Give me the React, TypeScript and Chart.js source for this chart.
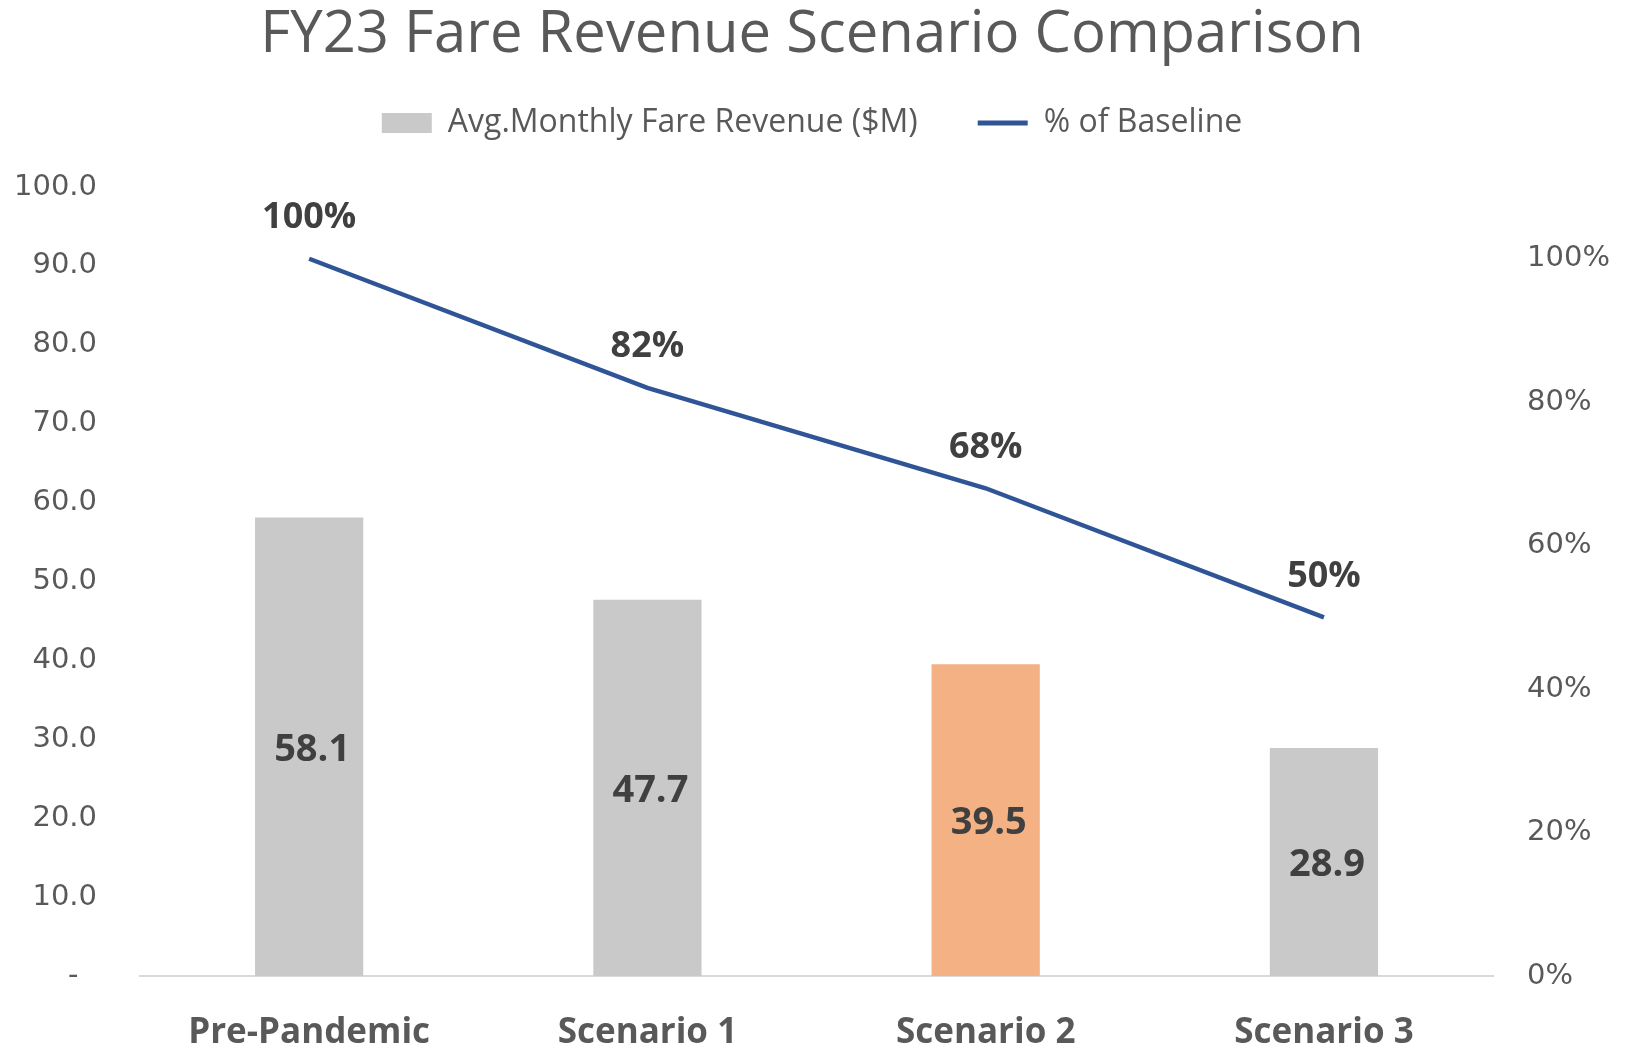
import React, { useEffect, useRef } from 'react';
import { Chart, registerables } from 'chart.js';

Chart.register(...registerables);

const titleText = 'FY23 Fare Revenue Scenario Comparison';
const categories = ['Pre-Pandemic', 'Scenario 1', 'Scenario 2', 'Scenario 3'];
const revenue = [58.1, 47.7, 39.5, 28.9];
const pctOfBaseline = [1.0, 0.82, 0.68, 0.5];
const barColors = ['#C9C9C9', '#C9C9C9', '#F4B183', '#C9C9C9'];
const revenueLabel = 'Avg.Monthly Fare Revenue ($M)';
const pctLabel = '% of Baseline';
const leftAxis = { min: 0, max: 100, step: 10 };
const rightAxis = { min: 0, max: 1.1, step: 0.2, lastLabel: 1.0 };

const GRAY_TEXT = '#595959';
const LABEL_TEXT = '#404040';
const LINE_BLUE = '#2F5597';
const SANS = "'Open Sans', sans-serif";
const TICK_FONT = "'DejaVu Sans', sans-serif";

// Chart.js counts tick padding twice when sizing an axis; keep it once.
const singlePadding = (extra: number) => (scale: any) => {
  const p = scale.options.ticks.padding;
  if (scale.isHorizontal()) scale.height -= p + extra;
  else scale.width -= p + extra;
};

export default function App() {
  const ref = useRef<HTMLCanvasElement | null>(null);

  useEffect(() => {
    if (!ref.current) return;

    const legendSpacer = {
      id: 'legendSpacer',
      beforeInit(chart: any) {
        const legend = chart.legend;
        if (!legend) return;
        const fit = legend.fit;
        legend.fit = function () {
          fit.call(legend);
          this.height += 38;
        };
      },
    };

    const valueLabels = {
      id: 'valueLabels',
      afterDatasetsDraw(chart: any) {
        const ctx = chart.ctx;
        ctx.save();
        ctx.fillStyle = LABEL_TEXT;
        ctx.textAlign = 'center';
        ctx.textBaseline = 'middle';
        ctx.font = `bold 38px ${SANS}`;
        chart.getDatasetMeta(0).data.forEach((el: any, i: number) => {
          ctx.fillText(revenue[i].toFixed(1), el.x + 3, (el.y + el.base) / 2 + 3);
        });
        ctx.font = `bold 36px ${SANS}`;
        chart.getDatasetMeta(1).data.forEach((el: any, i: number) => {
          ctx.fillText(Math.round(pctOfBaseline[i] * 100) + '%', el.x, el.y - 41);
        });
        ctx.restore();
      },
    };

    const chart = new Chart(ref.current, {
      type: 'bar',
      data: {
        labels: categories,
        datasets: [
          {
            type: 'bar',
            label: revenueLabel,
            data: revenue,
            backgroundColor: barColors,
            borderWidth: 0,
            yAxisID: 'y',
            order: 2,
            categoryPercentage: 1,
            barPercentage: 0.32,
          } as any,
          {
            type: 'line',
            label: pctLabel,
            data: pctOfBaseline,
            borderColor: LINE_BLUE,
            backgroundColor: LINE_BLUE,
            borderWidth: 4.5,
            pointRadius: 0,
            tension: 0,
            yAxisID: 'y1',
            order: 1,
          } as any,
        ],
      },
      options: {
        animation: false,
        responsive: true,
        maintainAspectRatio: false,
        color: GRAY_TEXT,
        font: { family: SANS },
        layout: { padding: { top: 24, left: 14, right: 16, bottom: 0 } },
        plugins: {
          tooltip: { enabled: false },
          title: {
            display: true,
            text: titleText,
            color: GRAY_TEXT,
            font: { family: SANS, size: 58, weight: 'normal', lineHeight: 0.397 },
            padding: { top: 0, bottom: 0 },
          },
          legend: {
            display: true,
            position: 'top',
            labels: {
              usePointStyle: true,
              pointStyleWidth: 50,
              boxHeight: 20,
              padding: 60,
              color: GRAY_TEXT,
              font: { family: SANS, size: 32 },
              generateLabels(c: any) {
                const items = Chart.defaults.plugins.legend.labels.generateLabels(c);
                items.sort((a: any, b: any) => a.datasetIndex - b.datasetIndex);
                items.forEach((it: any) => {
                  if (it.datasetIndex === 0) {
                    it.pointStyle = 'rect';
                    it.fillStyle = barColors[0];
                    it.strokeStyle = barColors[0];
                    it.lineWidth = 0;
                  } else {
                    it.pointStyle = 'line';
                    it.strokeStyle = LINE_BLUE;
                    it.fillStyle = LINE_BLUE;
                    it.lineWidth = 5;
                  }
                });
                return items;
              },
            },
          },
        },
        scales: {
          x: {
            grid: { display: false, drawTicks: false },
            border: { display: true, color: '#D9D9D9', width: 2 },
            afterFit: singlePadding(4),
            ticks: {
              color: GRAY_TEXT,
              padding: 40,
              font: { family: SANS, size: 35, weight: 'bold', lineHeight: 1 },
            },
          },
          y: {
            position: 'left',
            min: leftAxis.min,
            max: leftAxis.max,
            grid: { display: false, drawTicks: false },
            border: { display: false },
            afterFit: singlePadding(0),
            ticks: {
              stepSize: leftAxis.step,
              padding: 43,
              color: GRAY_TEXT,
              font: { family: TICK_FONT, size: 29 },
              callback: (v: any) => (Number(v) === 0 ? '-  ' : Number(v).toFixed(1)),
            },
          },
          y1: {
            position: 'right',
            min: rightAxis.min,
            max: rightAxis.max,
            grid: { display: false, drawTicks: false },
            border: { display: false },
            afterFit: singlePadding(0),
            afterBuildTicks(axis: any) {
              axis.ticks = axis.ticks.filter((t: any) => t.value <= rightAxis.lastLabel + 1e-6);
            },
            ticks: {
              stepSize: rightAxis.step,
              padding: 34,
              color: GRAY_TEXT,
              font: { family: TICK_FONT, size: 29 },
              callback: (v: any) => Math.round(Number(v) * 100) + '%',
            },
          },
        },
      } as any,
      plugins: [legendSpacer, valueLabels],
    });

    return () => chart.destroy();
  }, []);

  return (
    <div style={{ position: 'fixed', left: 0, top: 0, width: 1626, height: 1047, background: '#ffffff' }}>
      <canvas ref={ref} />
    </div>
  );
}
